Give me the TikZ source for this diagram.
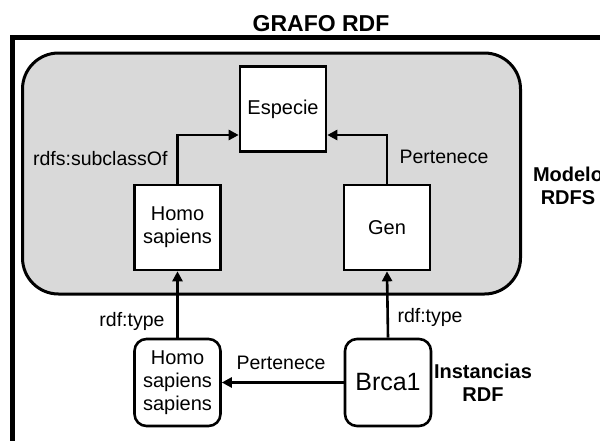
\documentclass[tikz,border=0pt]{standalone}
\usepackage{fontspec}
\setmainfont{Liberation Sans}
\usepackage{xcolor}
\usetikzlibrary{arrows.meta}
\definecolor{modelgray}{RGB}{217,217,217}

\begin{document}
\begin{tikzpicture}[x=1pt,y=-1pt,
    txt/.style={font=\fontsize{19.5}{23}\selectfont},
    bold/.style={font=\fontsize{20}{23}\selectfont\bfseries,align=center},
    classbox/.style={draw,line width=2.6pt,fill=white,align=center,inner sep=0pt,
      minimum width=86pt,minimum height=85pt,font=\fontsize{20}{23}\selectfont},
    instbox/.style={classbox,rounded corners=12pt,minimum height=87pt},
    arr/.style={line width=2.6pt,-{Triangle[length=10pt,width=10pt]}}]
    \clip (0,0) rectangle (600,440);
    % --- outer frame and title
    \fill[white] (0,0) rectangle (600,440);
    \draw[line width=5pt] (12.5,37.5) rectangle (640,480);
    \node[font=\fontsize{23}{27}\selectfont\bfseries] (title) at (321,24) {GRAFO RDF};
    % --- RDFS model
    \draw[line width=3pt,fill=modelgray,rounded corners=36pt] (22.5,53) rectangle (520.5,294);
    \node[classbox] (especie) at (283,109) {Especie};
    \node[classbox] (homo) at (177.5,227.5) {Homo\\sapiens};
    \node[classbox] (gen) at (387,227.5) {Gen};
    \draw[arr] (homo.north) |- ([yshift=-26pt]especie.west);
    \draw[arr] (gen.north) |- ([yshift=-26pt]especie.east);
    \node[txt,anchor=east] (lblsub) at (171,159) {rdfs:subclassOf};
    \node[txt,anchor=west] (lblpert) at (396,157) {Pertenece};
    \node[bold] (modelo) at (568,186) {Modelo\\RDFS};
    % --- RDF instances
    \node[instbox] (hss) at (177.5,382.5) {Homo\\sapiens\\sapiens};
    \node[instbox,font=\fontsize{25}{30}\selectfont] (brca) at (388,382.5) {Brca1};
    \draw[arr] (hss.north) -- (homo.south);
    \draw[arr] (brca.north) -- (gen.south);
    \draw[arr] (brca.west) -- (hss.east);
    \node[txt,anchor=east] (lbltypea) at (168,321) {rdf:type};
    \node[txt,anchor=west] (lbltypeb) at (394,317) {rdf:type};
    \node[txt] (lblpertb) at (281,363) {Pertenece};
    \node[bold] (instancias) at (483,383) {Instancias\\RDF};
\end{tikzpicture}
\end{document}
